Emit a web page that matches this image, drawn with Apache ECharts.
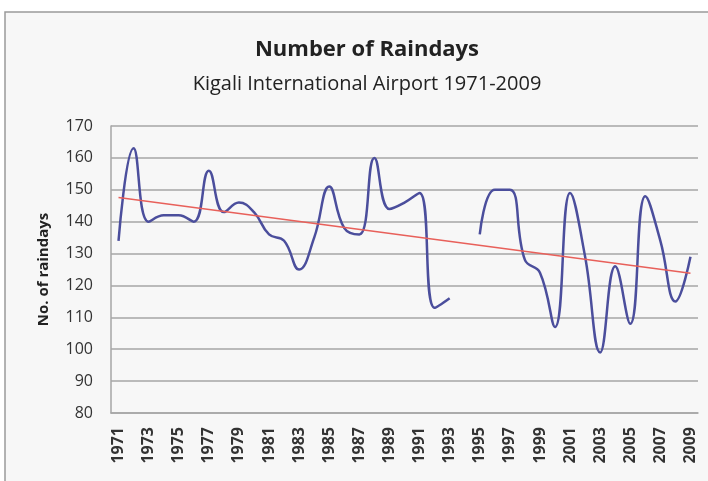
<!DOCTYPE html>
<html>
<head>
<meta charset="utf-8">
<script src="https://cdn.jsdelivr.net/npm/echarts@6/dist/echarts.min.js"></script>
<style>
  html, body { margin: 0; padding: 0; background: #ffffff; }
  #chart { width: 708px; height: 481px; }
</style>
</head>
<body>
<div id="chart"></div>
<script>
var years = [];
for (var y = 1971; y <= 2009; y++) { years.push(String(y)); }

// raindays per year, 1994 missing
var raindays = [
	134, 163, 140, 142, 142, 140, 156, 143, 146, 143,
	136, 134, 125, 135, 151, 138, 136, 160, 144, 146,
	149, 113, 116, null, 136, 150, 150, 128, 124, 107,
	149, 129, 99, 126, 108, 148, 134, 115, 129
];

// linear trend, end points
var trendStart = 147.6;
var trendEnd = 123.8;

var trend = years.map(function (d, i) {
	if (i === 0) return trendStart;
	if (i === years.length - 1) return trendEnd;
	return null;
});

var chart = echarts.init(document.getElementById('chart'));

var option = {
	backgroundColor: '#ffffff',
	animation: false,
	graphic: [
		{
			type: 'rect',
			z: -10,
			shape: { x: 5, y: 12, width: 720, height: 490 },
			style: { fill: '#f7f7f7', stroke: '#9a9a9a', lineWidth: 1.5 }
		}
	],
	title: [
		{
			text: 'Number of Raindays',
			left: 362,
			top: 34,
			textAlign: 'center',
			textStyle: { fontFamily: 'Open Sans', fontSize: 22, fontWeight: 'bold', color: '#222' }
		},
		{
			text: 'Kigali International Airport 1971-2009',
			left: 362,
			top: 69,
			textAlign: 'center',
			textStyle: { fontFamily: 'Open Sans', fontSize: 20, fontWeight: 'normal', color: '#222' }
		}
	],
	grid: { left: 111, right: 10, top: 126, bottom: 68 },
	xAxis: {
		type: 'category',
		data: years,
		boundaryGap: true,
		axisLine: { show: true, lineStyle: { color: '#a6a6a6', width: 1.5 } },
		axisTick: { show: false },
		axisLabel: {
			interval: 1,
			rotate: 90,
			margin: 14,
			fontFamily: 'Open Sans',
			fontSize: 16,
			fontWeight: 'bold',
			color: '#333'
		}
	},
	yAxis: {
		type: 'value',
		min: 80,
		max: 170,
		interval: 10,
		name: 'No. of raindays',
		nameLocation: 'middle',
		nameGap: 60,
		nameTextStyle: { fontFamily: 'Open Sans', fontSize: 15, fontWeight: 'bold', color: '#222' },
		axisLine: { show: true, lineStyle: { color: '#a6a6a6', width: 1.5 } },
		axisTick: { show: false },
		axisLabel: { fontFamily: 'Open Sans', fontSize: 16, color: '#333', margin: 18 },
		splitLine: { show: true, lineStyle: { color: '#a6a6a6', width: 1.5 } }
	},
	series: [
		{
			name: 'Raindays',
			type: 'line',
			data: raindays,
			smooth: 0.45,
			connectNulls: false,
			showSymbol: false,
			lineStyle: { color: '#4b4e9c', width: 2.5 },
			z: 3
		},
		{
			name: 'Trend',
			type: 'line',
			data: trend,
			connectNulls: true,
			showSymbol: false,
			lineStyle: { color: '#e8605a', width: 1.5 },
			z: 4
		}
	]
};

chart.setOption(option);
</script>
</body>
</html>
